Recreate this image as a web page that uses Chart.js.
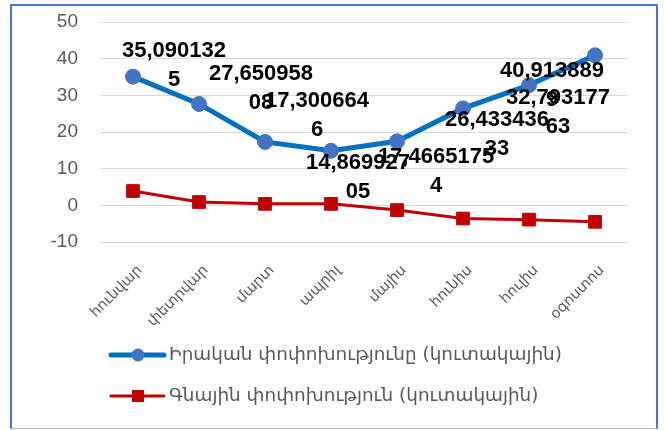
<!DOCTYPE html>
<html>
<head>
<meta charset="utf-8">
<script src="https://cdn.jsdelivr.net/npm/chart.js@4.4.0/dist/chart.umd.min.js"></script>
<style>
  html, body { margin: 0; padding: 0; background: #fff; }
  #wrap { position: relative; width: 664px; height: 430px; }
  #frame {
    position: absolute; left: 10px; top: 4px; width: 644px; height: 422px;
    border: 2px solid #4a78c8; border-bottom: 1px solid #a8bde6;
    pointer-events: none;
  }
</style>
</head>
<body>
<div id="wrap">
  <canvas id="chart" width="664" height="430"></canvas>
  <div id="frame"></div>
</div>
<script>
  var months = ['հունվար', 'փետրվար', 'մարտ', 'ապրիլ', 'մայիս', 'հունիս', 'հուլիս', 'օգոստոս'];
  var realChange = [35.0901325, 27.65095808, 17.3006646, 14.86992705, 17.46651754, 26.43343633, 32.79317763, 40.9138899];
  var priceChange = [3.9, 0.9, 0.4, 0.4, -1.3, -3.6, -3.9, -4.5];
  var seriesNames = ['Իրական փոփոխությունը (կուտակային)', 'Գնային փոփոխություն (կուտակային)'];
  var yTicks = [-10, 0, 10, 20, 30, 40, 50];

  // where Excel wrapped each value label, and where the label sits from its point
  var labelBreaks = [9, 9, 9, 9, 10, 9, 9, 9];
  var labelOffsets = [[41, -11], [62, -16], [52, -26], [27, 27], [39, 30], [34, 26], [29, 27], [-43, 30]];

  var armFont = '"DejaVu Sans", "Noto Sans", sans-serif';

  // Etiquetas de valores de la serie azul
  var valueLabels = {
    id: 'valueLabels',
    afterDatasetsDraw: function(chart) {
      var ctx = chart.ctx;
      var meta = chart.getDatasetMeta(0);
      ctx.save();
      ctx.font = 'bold 22px "Liberation Sans", Arial, sans-serif';
      ctx.fillStyle = '#000';
      ctx.textAlign = 'center';
      ctx.textBaseline = 'middle';
      meta.data.forEach(function(pt, i) {
        var txt = String(realChange[i]).replace('.', ',');
        var lines = [txt.slice(0, labelBreaks[i]), txt.slice(labelBreaks[i])];
        var cx = pt.x + labelOffsets[i][0];
        var cy = pt.y + labelOffsets[i][1];
        ctx.fillText(lines[0], cx, cy - 14.5);
        if (lines[1]) {
          ctx.fillText(lines[1], cx, cy + 14.5);
        }
      });
      ctx.restore();
    }
  };

  // Leyenda dibujada a mano (línea + marcador)
  var lineLegend = {
    id: 'lineLegend',
    afterDraw: function(chart) {
      var ctx = chart.ctx;
      var rows = [355, 396];
      ctx.save();
      chart.data.datasets.forEach(function(ds, i) {
        var y = rows[i];
        ctx.strokeStyle = ds.borderColor;
        ctx.lineWidth = ds.borderWidth;
        ctx.lineCap = 'round';
        ctx.beginPath();
        ctx.moveTo(111, y);
        ctx.lineTo(164, y);
        ctx.stroke();
        ctx.fillStyle = ds.pointBackgroundColor;
        if (ds.pointStyle === 'rect') {
          ctx.fillRect(132, y - 6, 12, 12);
        } else {
          ctx.beginPath();
          ctx.arc(138, y, 6.5, 0, Math.PI * 2);
          ctx.fill();
        }
        ctx.fillStyle = '#595959';
        ctx.font = '18.4px ' + armFont;
        ctx.textAlign = 'left';
        ctx.textBaseline = 'middle';
        ctx.fillText(ds.label, 169, y);
      });
      ctx.restore();
    }
  };

  new Chart(document.getElementById('chart'), {
    type: 'line',
    data: {
      labels: months,
      datasets: [
        {
          label: seriesNames[0],
          data: realChange,
          borderColor: '#0070c0',
          borderWidth: 5,
          pointBackgroundColor: '#4472c4',
          pointBorderColor: '#4472c4',
          pointBorderWidth: 1,
          pointRadius: 7.5,
          pointStyle: 'circle',
          tension: 0,
        },
        {
          label: seriesNames[1],
          data: priceChange,
          borderColor: '#c00000',
          borderWidth: 3,
          pointBackgroundColor: '#c00000',
          pointBorderColor: '#c00000',
          pointBorderWidth: 1,
          pointRadius: 9,
          pointStyle: 'rect',
          tension: 0,
        },
      ],
    },
    options: {
      responsive: false,
      animation: false,
      layout: {
        padding: { top: 22, left: 0, right: 36, bottom: 0 },
      },
      plugins: {
        legend: { display: false },
        tooltip: { enabled: false },
      },
      scales: {
        x: {
          offset: true,
          grid: { display: false },
          border: { display: false },
          ticks: {
            minRotation: 45,
            maxRotation: 45,
            padding: 12,
            labelOffset: 7,
            color: '#595959',
            font: { family: armFont, size: 14.5 },
          },
          afterFit: function(scale) {
            scale.height = 430 - 242;
          },
        },
        y: {
          min: yTicks[0],
          max: yTicks[yTicks.length - 1],
          afterBuildTicks: function(scale) {
            scale.ticks = yTicks.map(function(v) { return { value: v }; });
          },
          // tick marks hidden, their length only pushes the labels left
          grid: { color: '#d9d9d9', lineWidth: 1, drawTicks: true, tickLength: 22, tickColor: 'rgba(0,0,0,0)' },
          border: { display: false },
          ticks: {
            padding: 0,
            color: '#595959',
            font: { family: '"Liberation Sans", Arial, sans-serif', size: 19 },
          },
          afterFit: function(scale) {
            scale.width = 100;
          },
        },
      },
    },
    plugins: [valueLabels, lineLegend],
  });
</script>
</body>
</html>
